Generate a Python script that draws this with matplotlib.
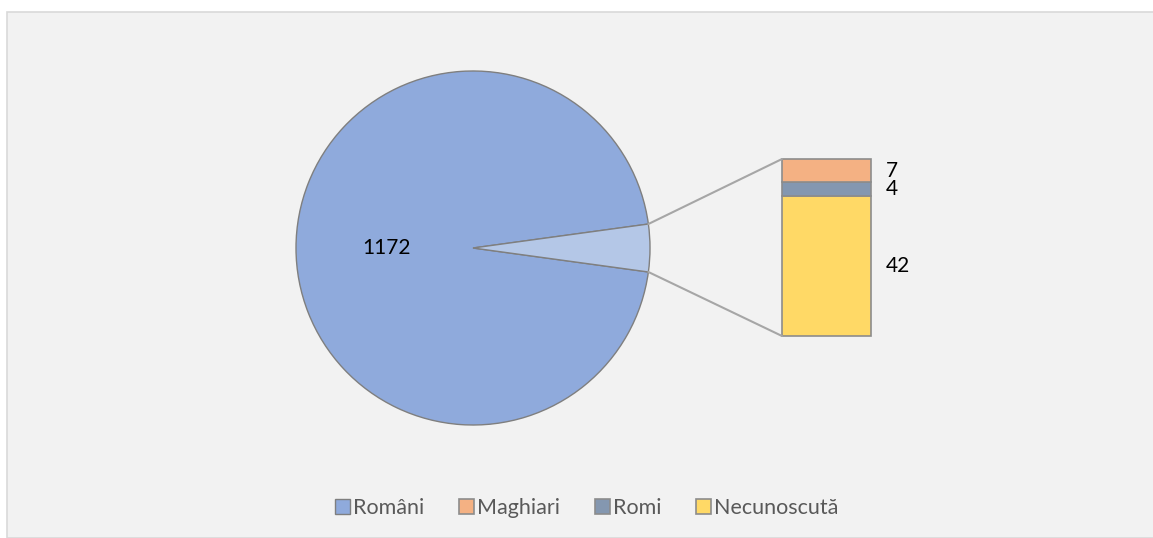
import numpy as np
import matplotlib
matplotlib.use("Agg")
import matplotlib.pyplot as plt
from matplotlib.patches import Rectangle, ConnectionPatch

# data
pie_labels = ['Români', 'Altele']
pie_values = [1172, 53]
bar_labels = ['Necunoscută', 'Romi', 'Maghiari']   # bottom -> top
bar_values = [42, 4, 7]

pie_colors = ['#8faadc', '#b4c7e7']
bar_colors = ['#ffd966', '#8497b0', '#f4b183']

plt.rcParams['font.family'] = ['Lato', 'DejaVu Sans']

W, H = 1153, 538
fig = plt.figure(figsize=(W / 100, H / 100), dpi=100, facecolor='white')

# chart area background with thin border
fig.patches.append(Rectangle((7 / W, 0), 1, 1 - 12 / H, transform=fig.transFigure,
                             facecolor='#f2f2f2', edgecolor='#d9d9d9', lw=1.2, zorder=-1))

# pie of the main values
ax_pie = fig.add_axes([296 / W, 1 - 425 / H, 354 / W, 354 / H])
ax_pie.set_axis_off()
start = 360 * pie_values[1] / sum(pie_values) / 2


def fmt(pct):
    v = int(round(pct * sum(pie_values) / 100))
    return str(v) if v == pie_values[0] else ''


wedges, _, autotexts = ax_pie.pie(pie_values, colors=pie_colors, startangle=start,
                                  autopct=fmt, pctdistance=0.49,
                                  wedgeprops=dict(edgecolor='#7f7f7f', linewidth=1),
                                  textprops=dict(fontsize=15, color='#000000'))
ax_pie.set_xlim(-1, 1)
ax_pie.set_ylim(-1, 1)

# stacked bar of the "other" slice
ax_bar = fig.add_axes([782 / W, 1 - 336 / H, 89 / W, 177 / H])
ax_bar.set_axis_off()
bottom = 0
bars = []
for lab, val, col in zip(bar_labels, bar_values, bar_colors):
    b = ax_bar.bar(0, val, width=1, bottom=bottom, color=col, edgecolor='#8c8c8c',
                   linewidth=1.2, label=lab, clip_on=False)
    bars.append(b[0])
    ax_bar.annotate(str(val), (0.5, bottom + val / 2), xytext=(11, 0),
                    textcoords='offset points', ha='left', va='center',
                    fontsize=15, color='#000000')
    bottom += val
ax_bar.set_xlim(-0.5, 0.5)
ax_bar.set_ylim(0, sum(bar_values))

# connection lines from slice to bar
w = wedges[1]
for ang, yb in [(w.theta2, sum(bar_values)), (w.theta1, 0)]:
    x = np.cos(np.radians(ang))
    y = np.sin(np.radians(ang))
    con = ConnectionPatch(xyA=(-0.5, yb), coordsA=ax_bar.transData,
                          xyB=(x, y), coordsB=ax_pie.transData,
                          color='#a6a6a6', linewidth=1.5)
    fig.add_artist(con)

# legend
handles = [wedges[0], bars[2], bars[1], bars[0]]
names = ['Români', 'Maghiari', 'Romi', 'Necunoscută']
fig.legend(handles, names, loc='center', bbox_to_anchor=(587 / W, 1 - 508 / H),
           ncol=4, frameon=False, fontsize=15.5, handlelength=0.7, handleheight=0.7,
           handletextpad=0.15, columnspacing=1.6, labelcolor='#595959')

fig.savefig('out.png', dpi=100, facecolor='white')
